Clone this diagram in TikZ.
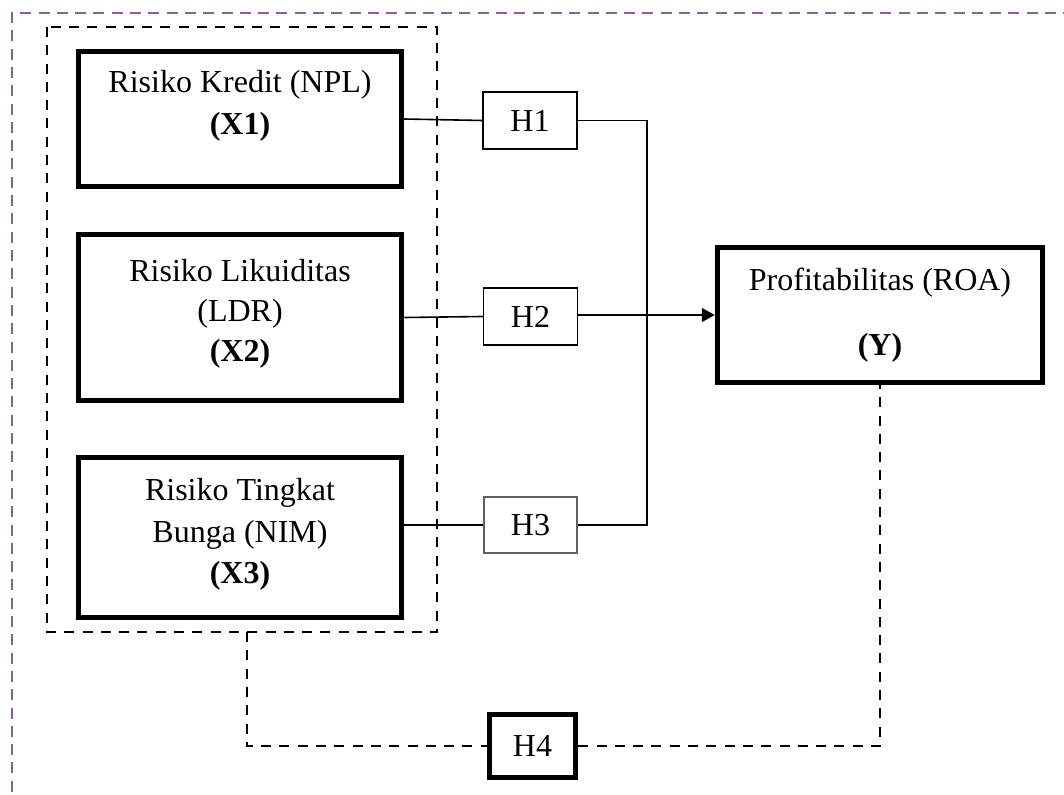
\documentclass[tikz,border=0pt]{standalone}
\usepackage{fontspec}
\setmainfont{Liberation Serif}
\usetikzlibrary{arrows.meta}
\definecolor{framepurple}{HTML}{8064A2}
\definecolor{hgray}{HTML}{606060}
\begin{document}
\begin{tikzpicture}[x=1pt,y=-1pt,
  bigbox/.style={draw=black, line width=5.5pt, minimum width=323pt, inner sep=0pt},
  hbox/.style={draw=black, line width=1.5pt, minimum width=94pt, minimum height=57pt, inner sep=0pt, font=\fontsize{32}{41}\selectfont},
  txt/.style={anchor=base, inner sep=0pt, font=\fontsize{32}{41}\selectfont},
  conn/.style={draw=black, line width=1.6pt},
  dconn/.style={draw=black, line width=2.7pt, dash pattern=on 10pt off 8.3pt},
  groupframe/.style={draw=black, line width=2.7pt, dash pattern=on 10pt off 8.3pt},
  outerframe/.style={draw=framepurple, line width=2.6pt, dash pattern=on 11pt off 7.3pt}]
\clip (0,0) rectangle (1064,794);
% outer purple frame
\draw[outerframe] (12,810) -- (12,13) -- (1080,13);
% group box
\draw[groupframe] (47,27) rectangle (437,632);
\coordinate (gbot) at (247,632);
% X boxes
\node[bigbox, minimum height=135pt] (x1) at (240,119) {};
\node[txt] (x1a) at (240,93) {Risiko Kredit (NPL)};
\node[txt] (x1b) at (240,135) {\textbf{(X1)}};
\node[bigbox, minimum height=166pt] (x2) at (240,317.5) {};
\node[txt] (x2a) at (240,281) {Risiko Likuiditas};
\node[txt] (x2b) at (240,321) {(LDR)};
\node[txt] (x2c) at (240,361) {\textbf{(X2)}};
\node[bigbox, minimum height=160pt] (x3) at (240,537.5) {};
\node[txt] (x3a) at (240,500) {Risiko Tingkat};
\node[txt] (x3b) at (240,542) {Bunga (NIM)};
\node[txt] (x3c) at (240,583) {\textbf{(X3)}};
% Y box
\node[bigbox, minimum width=325pt, minimum height=135pt] (y) at (880,315) {};
\node[txt] (ya) at (880,290) {Profitabilitas (ROA)};
\node[txt] (yb) at (880,355) {\textbf{(Y)}};
% H boxes
\node[hbox] (h1) at (530,120.5) {H1};
\node[hbox] (h2) at (530.5,316.5) {H2};
\node[hbox, draw=hgray, minimum width=93pt, minimum height=56pt] (h3) at (530.5,525) {H3};
\node[hbox, line width=5.5pt, minimum width=86pt, minimum height=63pt] (h4) at (532.5,746) {H4};
% solid connectors
\draw[conn] (x1.east) -- (h1.west);
\draw[conn] (x2.east) -- (h2.west);
\draw[conn] (x3.east |- h3.west) -- (h3.west);
\coordinate (jn) at (647,120.5);
\draw[conn] (h1.east) -- (jn) -- (jn |- h3.east) -- (h3.east);
\draw[conn, -{Triangle[length=13pt,width=14pt]}] (h2.east |- y.west) -- (y.west);
% dashed connectors
\draw[dconn] (gbot) -- (gbot |- h4.west) -- (h4.west);
\draw[dconn] (h4.east) -- (h4.east -| y.south) -- (y.south);
\end{tikzpicture}
\end{document}
